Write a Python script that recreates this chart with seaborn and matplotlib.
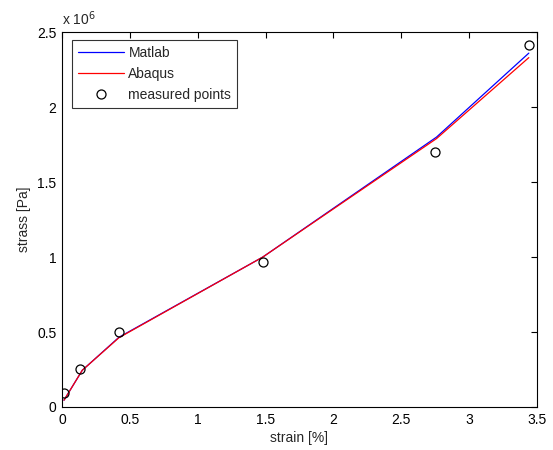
import matplotlib
matplotlib.use("Agg")
import matplotlib.pyplot as plt
import seaborn as sns
import pandas as pd
from matplotlib.ticker import FuncFormatter, MultipleLocator

# Data
matlab_strain = [0.015, 0.15, 0.42, 1.48, 2.76, 3.44]
matlab_stress = [0.045e6, 0.245e6, 0.465e6, 1.0e6, 1.80e6, 2.36e6]
abaqus_strain = [0.015, 0.15, 0.42, 1.48, 2.76, 3.44]
abaqus_stress = [0.045e6, 0.245e6, 0.462e6, 1.0e6, 1.79e6, 2.33e6]
meas_strain = [0.015, 0.135, 0.42, 1.48, 2.75, 3.44]
meas_stress = [0.093e6, 0.255e6, 0.50e6, 0.965e6, 1.70e6, 2.415e6]

sns.set_style("white")
plt.rcParams['font.family'] = ['Liberation Sans', 'DejaVu Sans']

fig = plt.figure(figsize=(5.53, 4.5), dpi=100)
ax = fig.add_axes([0.112, 0.0956, 0.859, 0.833])

df_m = pd.DataFrame({"strain": matlab_strain, "stress": matlab_stress})
df_a = pd.DataFrame({"strain": abaqus_strain, "stress": abaqus_stress})
df_p = pd.DataFrame({"strain": meas_strain, "stress": meas_stress})

sns.lineplot(data=df_m, x="strain", y="stress", ax=ax, color="blue", lw=0.9,
             label="Matlab", sort=False)
sns.lineplot(data=df_a, x="strain", y="stress", ax=ax, color="red", lw=0.9,
             label="Abaqus", sort=False)
ax.plot(df_p["strain"], df_p["stress"], ls="none", marker="o", ms=6.5,
        mfc="none", mec="black", mew=0.9, label="measured points")

ax.set_xlim(0, 3.5)
ax.set_ylim(0, 2.5e6)
ax.xaxis.set_major_locator(MultipleLocator(0.5))
ax.yaxis.set_major_locator(MultipleLocator(0.5e6))
ax.xaxis.set_major_formatter(FuncFormatter(lambda v, p: f"{v:g}"))
ax.yaxis.set_major_formatter(FuncFormatter(lambda v, p: f"{v/1e6:g}"))
ax.tick_params(direction="in", length=4, width=0.8, top=True, right=True,
               labelsize=10, colors="black", pad=4)
for s in ax.spines.values():
    s.set_color("black")
    s.set_linewidth(0.8)
    s.set_visible(True)

ax.set_xlabel("strain [%]", fontsize=10, labelpad=3)
ax.set_ylabel("strass [Pa]", fontsize=10, labelpad=4)
ax.text(0.0, 1.012, "x 10$^6$", transform=ax.transAxes, fontsize=10,
        ha="left", va="bottom")

leg = ax.legend(loc="upper left", bbox_to_anchor=(0.021, 0.979), fontsize=10,
                frameon=True, fancybox=False, borderaxespad=0.0,
                handlelength=3.3, labelspacing=0.5, borderpad=0.42,
                handletextpad=0.35)
leg.get_frame().set_edgecolor("black")
leg.get_frame().set_linewidth(0.8)

fig.savefig("out.png", dpi=100, facecolor="white")
